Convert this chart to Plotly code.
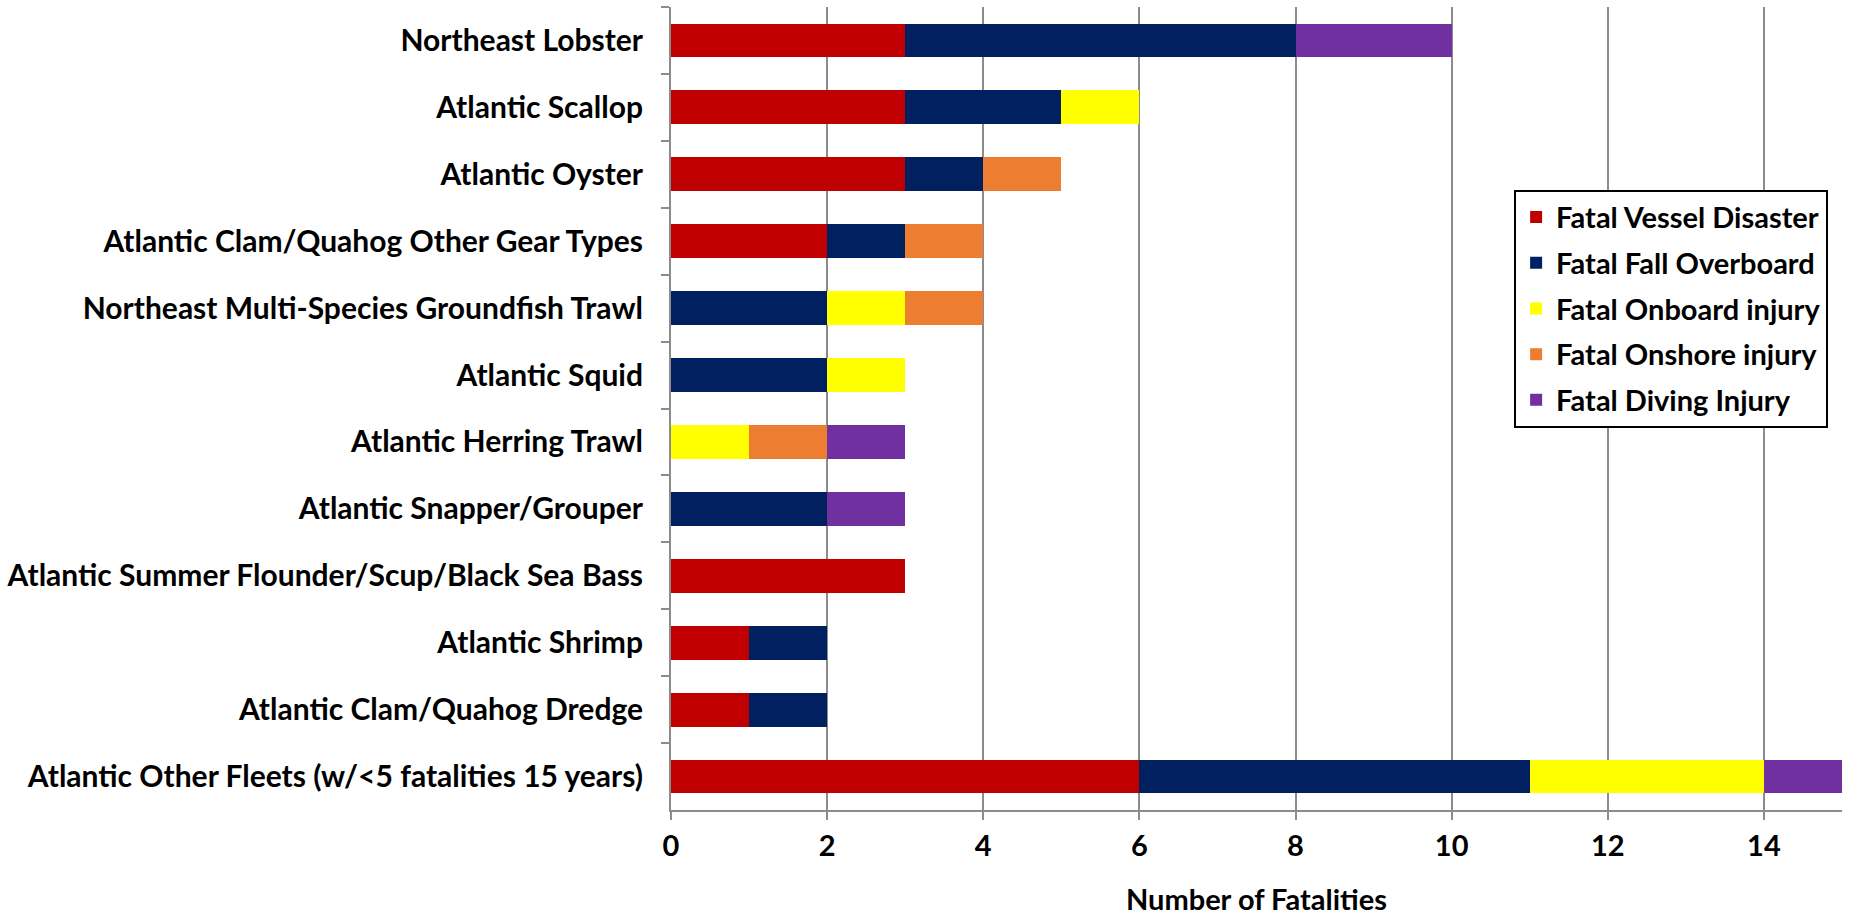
import plotly.graph_objects as go

fleets = [
    "Northeast Lobster",
    "Atlantic Scallop",
    "Atlantic Oyster",
    "Atlantic Clam/Quahog Other Gear Types",
    "Northeast Multi-Species Groundfish Trawl",
    "Atlantic Squid",
    "Atlantic Herring Trawl",
    "Atlantic Snapper/Grouper",
    "Atlantic Summer Flounder/Scup/Black Sea Bass",
    "Atlantic Shrimp",
    "Atlantic Clam/Quahog Dredge",
    "Atlantic Other Fleets (w/<5 fatalities 15 years)",
]

vessel_disaster = [3, 3, 3, 2, 0, 0, 0, 0, 3, 1, 1, 6]
fall_overboard = [5, 2, 1, 1, 2, 2, 0, 2, 0, 1, 1, 5]
onboard_injury = [0, 1, 0, 0, 1, 1, 1, 0, 0, 0, 0, 3]
onshore_injury = [0, 0, 1, 1, 1, 0, 1, 0, 0, 0, 0, 0]
diving_injury = [2, 0, 0, 0, 0, 0, 1, 1, 0, 0, 0, 1]

series = [
    ("Fatal Vessel Disaster", vessel_disaster, "#C00000"),
    ("Fatal Fall Overboard", fall_overboard, "#002060"),
    ("Fatal Onboard injury", onboard_injury, "#FFFF00"),
    ("Fatal Onshore injury", onshore_injury, "#ED7D31"),
    ("Fatal Diving Injury", diving_injury, "#7030A0"),
]

x_ticks = [0, 2, 4, 6, 8, 10, 12, 14]

FONT = "Lato"
AXIS_SIZE = 29
CATEGORY_SIZE = 30
LEGEND_SIZE = 29

fig = go.Figure()
for i, (name, vals, color) in enumerate(series):
    fig.add_trace(go.Bar(
        y=fleets,
        x=vals,
        name=name,
        orientation="h",
        marker=dict(color=color, line=dict(width=0)),
        legendgroup=f"g{i}",
    ))

fig.update_layout(
    barmode="stack",
    bargap=0.495,
    width=1850,
    height=918,
    margin=dict(l=671, r=8, t=7, b=102),
    paper_bgcolor="white",
    plot_bgcolor="white",
    font=dict(family=FONT, size=AXIS_SIZE, color="black", weight="bold"),
    legend=dict(
        x=0.72, y=0.7725, xanchor="left", yanchor="top",
        bordercolor="black", borderwidth=2,
        bgcolor="white",
        traceorder="grouped",
        tracegroupgap=5,
        font=dict(family=FONT, size=LEGEND_SIZE, color="black", weight="bold"),
    ),
    xaxis=dict(
        range=[0, 15],
        tickvals=x_ticks,
        showgrid=True,
        gridcolor="#8c8c8c",
        gridwidth=1.5,
        showline=True,
        linecolor="#8c8c8c",
        linewidth=2,
        ticks="outside",
        ticklen=8,
        tickcolor="#8c8c8c",
        tickwidth=2,
        ticklabelstandoff=1,
        tickfont=dict(family=FONT, size=AXIS_SIZE, weight="bold"),
        title=dict(text="Number of Fatalities", standoff=29,
                   font=dict(family=FONT, size=AXIS_SIZE, weight="bold")),
        zeroline=False,
        fixedrange=True,
    ),
    yaxis=dict(
        categoryorder="array",
        categoryarray=fleets,
        autorange="reversed",
        showline=True,
        linecolor="#8c8c8c",
        linewidth=2,
        ticks="outside",
        tickson="boundaries",
        ticklen=8,
        tickcolor="#8c8c8c",
        tickwidth=2,
        ticklabelstandoff=20,
        showgrid=False,
        tickfont=dict(family=FONT, size=CATEGORY_SIZE, weight="bold"),
    ),
)

fig.write_html("out.html")
